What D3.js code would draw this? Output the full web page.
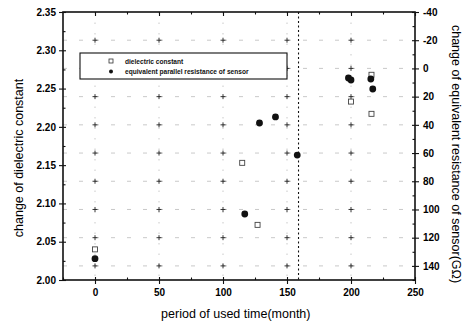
<!DOCTYPE html>
<html>
<head>
<meta charset="utf-8">
<script src="https://cdn.jsdelivr.net/npm/d3@7"></script>
<style>
  body { margin: 0; background: #fff; }
  svg { font-family: "Liberation Sans", Arial, sans-serif; }
  .tick text { font-size: 10px; font-weight: bold; fill: #000; }
  .domain { display: none; }
</style>
</head>
<body>
<div id="chart"></div>
<script>
// dielectric constant (open squares, left axis)
const dielMonths = [0, 115, 127, 200, 216, 216];
const dielValues = [2.040, 2.153, 2.072, 2.233, 2.217, 2.268];
// equivalent parallel resistance (filled dots, right axis)
const resMonths = [0, 117, 128.5, 141, 158, 198, 200, 215.5, 217];
const resValues = [134.9, 103.2, 38.7, 34.4, 61.4, 6.8, 8.2, 7.5, 14.6];
const xTicks = [0, 50, 100, 150, 200, 250];
const leftTicks = [2.00, 2.05, 2.10, 2.15, 2.20, 2.25, 2.30, 2.35];
const rightTicks = [-40, -20, 0, 20, 40, 60, 80, 100, 120, 140];
const markerMonth = 159;
const legendLabels = ["dielectric constant", "equivalent parallel resistance of sensor"];

var W = 470, H = 326;
var margin = { top: 12, right: 55, bottom: 46, left: 63 },
  width = W - margin.left - margin.right,
  height = H - margin.top - margin.bottom;

var svg = d3.select("#chart").append("svg")
  .attr("width", W).attr("height", H)
  .append("g")
  .attr("transform", "translate(" + margin.left + "," + margin.top + ")");

var x = d3.scaleLinear().domain([-25, 250]).range([0, width]);
var yL = d3.scaleLinear().domain([2.00, 2.35]).range([height, 0]);
var yR = d3.scaleLinear().domain([-40, 150]).range([0, height]);

// faint grid with crosses at intersections
var gridX = xTicks.filter(d => d < 250);
var gridY = rightTicks.filter(d => d > -40);
svg.append("g").selectAll("line.gv").data(gridX).enter().append("line")
  .attr("x1", d => x(d)).attr("x2", d => x(d))
  .attr("y1", 0).attr("y2", height)
  .attr("stroke", "#bbb").attr("stroke-width", 0.8)
  .attr("stroke-dasharray", "1.5,9");
svg.append("g").selectAll("line.gh").data(gridY).enter().append("line")
  .attr("x1", 0).attr("x2", width)
  .attr("y1", d => yR(d)).attr("y2", d => yR(d))
  .attr("stroke", "#bbb").attr("stroke-width", 0.8)
  .attr("stroke-dasharray", "4,12");
var crosses = [];
gridX.forEach(a => gridY.forEach(b => crosses.push([a, b])));
var cg = svg.append("g").attr("stroke", "#222").attr("stroke-width", 0.9);
crosses.forEach(function (c) {
  var cx = x(c[0]), cy = yR(c[1]);
  cg.append("line").attr("x1", cx - 2.5).attr("x2", cx + 2.5).attr("y1", cy).attr("y2", cy);
  cg.append("line").attr("x1", cx).attr("x2", cx).attr("y1", cy - 2.5).attr("y2", cy + 2.5);
});

// vertical dashed line
svg.append("line")
  .attr("x1", x(markerMonth)).attr("x2", x(markerMonth))
  .attr("y1", 0).attr("y2", height)
  .attr("stroke", "#111").attr("stroke-width", 1.1)
  .attr("stroke-dasharray", "2,2.5");

// frame
svg.append("rect")
  .attr("width", width).attr("height", height)
  .attr("fill", "none").attr("stroke", "#111").attr("stroke-width", 1.6);

// axes: bottom
svg.append("g").attr("transform", "translate(0," + height + ")")
  .call(d3.axisBottom(x).tickValues(xTicks).tickSize(4).tickPadding(5).tickFormat(d3.format("d")));
svg.append("g").attr("transform", "translate(0," + height + ")")
  .call(d3.axisBottom(x).tickValues(xTicks).tickSize(-3).tickFormat(""));
svg.append("g").attr("transform", "translate(0," + height + ")")
  .call(d3.axisBottom(x).tickValues([-25, 25, 75, 125, 175, 225]).tickSize(-2.5).tickFormat(""));
// top
svg.append("g")
  .call(d3.axisTop(x).tickValues(xTicks).tickSize(-4).tickFormat(""));
svg.append("g")
  .call(d3.axisTop(x).tickValues([25, 75, 125, 175, 225]).tickSize(-2.5).tickFormat(""));
// left
svg.append("g")
  .call(d3.axisLeft(yL).tickValues(leftTicks).tickSize(4).tickPadding(3).tickFormat(d3.format(".2f")));
svg.append("g")
  .call(d3.axisLeft(yL).tickValues(leftTicks).tickSize(-3).tickFormat(""));
svg.append("g")
  .call(d3.axisLeft(yL).tickValues(leftTicks.slice(0, -1).map(d => d + 0.025)).tickSize(-2.5).tickFormat(""));
// right
svg.append("g").attr("transform", "translate(" + width + ",0)")
  .call(d3.axisRight(yR).tickValues(rightTicks).tickSize(4).tickPadding(4).tickFormat(d3.format("d")));
svg.append("g").attr("transform", "translate(" + width + ",0)")
  .call(d3.axisRight(yR).tickValues(rightTicks).tickSize(-3).tickFormat(""));
svg.append("g").attr("transform", "translate(" + width + ",0)")
  .call(d3.axisRight(yR).tickValues(rightTicks.map(d => d + 10)).tickSize(-2.5).tickFormat(""));
svg.selectAll(".tick line").attr("stroke", "#111").attr("stroke-width", 1.1);
svg.selectAll(".tick text").text(function () { return this.textContent.replace("−", "-"); });

// data marks
var dielData = dielMonths.map((m, i) => ({ m: m, v: dielValues[i] }));
var resData = resMonths.map((m, i) => ({ m: m, v: resValues[i] }));
svg.append("g").selectAll("rect").data(dielData).enter().append("rect")
  .attr("x", d => x(d.m) - 2.5).attr("y", d => yL(d.v) - 2.5)
  .attr("width", 5).attr("height", 5)
  .attr("fill", "#fff").attr("stroke", "#444").attr("stroke-width", 0.9);
svg.append("g").selectAll("circle").data(resData).enter().append("circle")
  .attr("cx", d => x(d.m)).attr("cy", d => yR(d.v))
  .attr("r", 3.4).attr("fill", "#111");

// legend
var lg = svg.append("g").attr("transform", "translate(17,41)");
lg.append("rect").attr("width", 207).attr("height", 26)
  .attr("fill", "#fff").attr("stroke", "#111").attr("stroke-width", 1.1);
lg.append("rect").attr("x", 29).attr("y", 6).attr("width", 4).attr("height", 4)
  .attr("fill", "#fff").attr("stroke", "#333").attr("stroke-width", 0.8);
lg.append("circle").attr("cx", 31).attr("cy", 18.5).attr("r", 2).attr("fill", "#111");
lg.selectAll("text").data(legendLabels).enter().append("text")
  .attr("x", 45).attr("y", (d, i) => 10.5 + i * 10.5)
  .attr("font-size", "6.6px").attr("font-weight", "bold").attr("fill", "#111")
  .text(d => d);

// axis titles
svg.append("text")
  .attr("transform", "translate(" + (-40) + "," + (height / 2 + 12) + ") rotate(-90)")
  .attr("text-anchor", "middle").attr("font-size", "12.5px").attr("fill", "#000")
  .text("change of dielectric constant");
svg.append("text")
  .attr("transform", "translate(" + (width + 37) + "," + (height / 2 + 8) + ") rotate(90)")
  .attr("text-anchor", "middle").attr("font-size", "12.5px").attr("fill", "#000")
  .text("change of equivalent resistance of sensor(GΩ)");
svg.append("text")
  .attr("x", x(110)).attr("y", height + 38)
  .attr("text-anchor", "middle").attr("font-size", "12.5px").attr("fill", "#000")
  .text("period of used time(month)");
</script>
</body>
</html>
